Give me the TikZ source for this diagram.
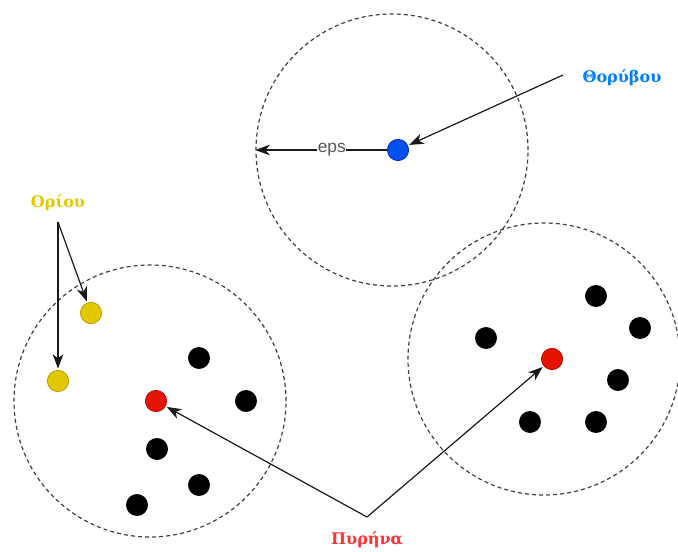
\documentclass[tikz,border=0pt]{standalone}
\usepackage{fontspec}
\setmainfont{DejaVu Serif}
\setsansfont{Liberation Sans}
\usepackage{tikz}
\usetikzlibrary{arrows.meta,positioning}
\definecolor{corefill}{HTML}{E51400}
\definecolor{coredraw}{HTML}{B20000}
\definecolor{borderfill}{HTML}{E3C800}
\definecolor{borderdraw}{HTML}{B09500}
\definecolor{noisefill}{HTML}{0050EF}
\definecolor{noisedraw}{HTML}{001DBC}
\definecolor{noisetext}{HTML}{007FFF}
\definecolor{coretext}{HTML}{FF3333}
\definecolor{bordertext}{HTML}{E3C800}

\begin{document}
\begin{tikzpicture}[x=0.75pt,y=-0.75pt]
\tikzstyle{point} = [
	shape=circle,
	fill=black, %plain member of a cluster
	draw=black,
	minimum size=16pt,
	inner sep=0pt
];
\tikzstyle{core} = [point, fill=corefill, draw=coredraw, line width=0.5pt];
\tikzstyle{border} = [point, fill=borderfill, draw=borderdraw, line width=0.5pt];
\tikzstyle{noise} = [point, fill=noisefill, draw=noisedraw, line width=0.5pt];
\tikzstyle{zone} = [
	shape=circle,
	draw=black!75,
	dash pattern=on 3pt off 2.3pt,
	line width=0.9pt,
	minimum size=204pt,
	inner sep=0pt
];
\tikzstyle{tag} = [font=\bfseries\fontsize{12}{14}\selectfont, inner sep=1pt];
\tikzstyle{pointer} = [-{Stealth[length=3.8mm,width=2.8mm,inset=1.1mm]}, shorten >=1pt];

\useasboundingbox (0,0) rectangle (678,552);

%eps neighbourhoods
\node[zone](Zn) at (392,150) {};
\node[zone](Zl) at (150,401) {};
\node[zone](Zr) at (544,359) {};

%noise point
\node[noise](N) at (398,150) {};

%left cluster
\node[border](B1) at (91,313) {};
\node[border](B2) at (58,381) {};
\node[core](C1) at (156,401) {};
\node[point](L1) at (199,358) {};
\node[point](L2) at (246,401) {};
\node[point](L3) at (157,449) {};
\node[point](L4) at (199,485) {};
\node[point](L5) at (137,505) {};

%right cluster
\node[core](C2) at (552,359) {};
\node[point](R1) at (596,296) {};
\node[point](R2) at (640,328) {};
\node[point](R3) at (486,338) {};
\node[point](R4) at (618,380) {};
\node[point](R5) at (530,422) {};
\node[point](R6) at (596,422) {};

%labels
\node[tag, text=noisetext](Tn) at (622,78) {Θορύβου};
\node[tag, text=bordertext](Tb) at (58,203) {Ορίου};
\node[tag, text=coretext](Tc) at (367,540) {Πυρήνα};
\coordinate (Tbf) at (58,222);
\coordinate (Tcf) at (367,517);
\coordinate (Tnf) at (563,75);

\draw[line width=0.9pt, color=black!90]
	(N) edge[pointer, shorten >=0pt] node[pos=0.42, fill=white, text=black!65, inner sep=0.5pt, font=\sffamily\fontsize{13}{15}\selectfont] {eps} (Zn.west)
	(Tnf) edge[pointer] (N)
	(Tbf) edge[pointer] (B1)
	(Tbf) edge[pointer] (B2)
	(Tcf) edge[pointer] (C1)
	(Tcf) edge[pointer] (C2)
;
\end{tikzpicture}
\end{document}
